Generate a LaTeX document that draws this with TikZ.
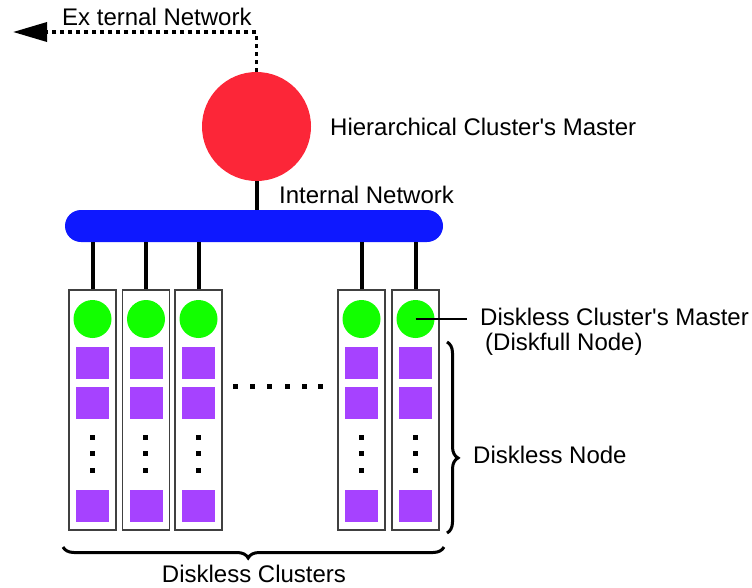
\documentclass[tikz,border=0pt]{standalone}
\usepackage{fontspec}
\setmainfont{Liberation Sans}[Ligatures=TeXOff]
\usetikzlibrary{arrows.meta,decorations.pathreplacing}
\definecolor{myred}{RGB}{252,38,56}
\definecolor{myblue}{RGB}{14,24,255}
\definecolor{mygreen}{RGB}{18,255,0}
\definecolor{mypurple}{RGB}{166,66,255}
\begin{document}
\begin{tikzpicture}[x=1pt,y=-1pt,
 lbl/.style={inner sep=0pt, anchor=base west, font=\fontsize{24}{28}\selectfont},
 colbox/.style={draw=black!75, line width=1.5pt, fill=white, minimum width=47pt, minimum height=240pt, inner sep=0pt},
 gnode/.style={circle, fill=mygreen, minimum size=38pt, inner sep=0pt},
 disk/.style={fill=mypurple, minimum width=33pt, minimum height=32pt, inner sep=0pt},
 vdot/.style={fill=black, minimum size=5pt, inner sep=0pt},
 wire/.style={line width=4pt},
 brc/.style={decorate, line width=3pt},
]
\useasboundingbox (0,0) rectangle (752,587);

% master and bus
\node[circle, fill=myred, minimum size=109pt, inner sep=0pt] (master) at (256.5,126.5) {};
\node[fill=myblue, rounded corners=16pt, minimum width=378pt, minimum height=32pt, inner sep=0pt] (bus) at (254,226) {};
\draw[wire] (master.south) -- (bus.north -| master.south);

% external network
\coordinate (extend) at (13,32);
\draw[line width=3.5pt, dash pattern=on 4pt off 4pt, -{Triangle[length=34pt,width=19pt]}] (master.north) |- (extend);

% columns
\foreach \i/\x in {1/92.5, 2/146, 3/198.5, 4/361.5, 5/415.5} {
  \node[colbox] (c\i) at (\x,410) {};
  \node[gnode] (g\i) at (\x,319) {};
  \node[disk] (da\i) at (\x,363) {};
  \node[disk] (db\i) at (\x,402.5) {};
  \node[disk] (dc\i) at (\x,506) {};
  \node[vdot] (va\i) at (\x-0.5,437) {};
  \node[vdot] (vb\i) at (\x-0.5,453.5) {};
  \node[vdot] (vc\i) at (\x-0.5,470) {};
  \draw[wire] (c\i.north) -- (c\i.north |- bus.south);
}

% horizontal dots
\foreach \j/\x in {1/235,2/252,3/269,4/287,5/304,6/320}
  \node[vdot] (hd\j) at (\x,386) {};

% labels
\node[lbl] (extlbl) at (62,25) {Ex ternal Network};
\node[lbl] (hcm) at (330,135.5) {Hierarchical Cluster's Master};
\node[lbl] (inet) at (279,203) {Internal Network};
\node[lbl] (dcm) at (480,325) {Diskless Cluster's Master};
\node[lbl] (dfn) at (485,350) {(Diskfull Node)};
\node[lbl] (dln) at (473,463) {Diskless Node};
\node[lbl, anchor=base] (dcl) at (254,582) {Diskless Clusters};

% pointer to diskless cluster's master
\coordinate (ptr) at (467,319);
\draw[line width=2pt] (g5.center) -- (ptr);

% braces
\draw[brc, decoration={brace, amplitude=11pt, aspect=0.607}] (447,342) -- (447,533);
\draw[brc, decoration={brace, amplitude=11pt, aspect=0.514}] (444,547) -- (63,547);
\end{tikzpicture}
\end{document}
